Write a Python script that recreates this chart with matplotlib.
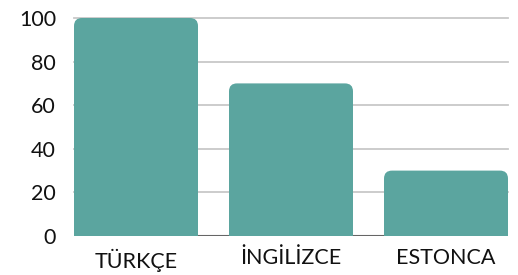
import matplotlib
matplotlib.use("Agg")
import matplotlib.pyplot as plt
from matplotlib.patches import FancyBboxPatch

categories = ["TÜRKÇE", "İNGİLİZCE", "ESTONCA"]
values = [100, 70, 30]
yticks = [0, 20, 40, 60, 80, 100]

bar_color = "#5ba59f"
bar_w = 0.8

plt.rcParams["font.family"] = ["Lato", "DejaVu Sans"]

fig = plt.figure(figsize=(5.18, 2.75), dpi=100)
ax = fig.add_axes([74 / 518, 39 / 275, 434 / 518, 218 / 275])
ax.set_xlim(-bar_w / 2, len(categories) - 1 + bar_w / 2)
ax.set_ylim(0, 100)

for y in yticks[1:]:
    ax.axhline(y, color="#c8c8c8", lw=1.3, zorder=0, clip_on=False)
ax.axhline(0, color="#666666", lw=1.5, zorder=1)

bars = ax.bar(range(len(categories)), values, width=bar_w, color=bar_color, zorder=2)

# rounded top corners (radius in pixels), bottom pushed below axis and clipped
fig.canvas.draw()
x_per_px = (ax.get_xlim()[1] - ax.get_xlim()[0]) / ax.bbox.width
y_per_px = (ax.get_ylim()[1] - ax.get_ylim()[0]) / ax.bbox.height
r = 8 * x_per_px
extra = 20 * y_per_px
for b in bars:
    b.set_visible(False)
    x, w, h = b.get_x(), b.get_width(), b.get_height()
    p = FancyBboxPatch((x, -extra), w, h + extra, boxstyle=f"round,pad=0,rounding_size={r}",
                       mutation_aspect=y_per_px / x_per_px,
                       fc=bar_color, ec="none", zorder=2)
    ax.add_patch(p)

ax.set_xticks(range(len(categories)))
ax.set_xticklabels(categories)
ax.set_yticks(yticks)
ax.tick_params(length=0, labelsize=15.5, colors="#111111")
ax.tick_params(axis="y", pad=13)
ax.tick_params(axis="x", pad=9)
for s in ax.spines.values():
    s.set_visible(False)

fig.savefig("out.png", dpi=100)
